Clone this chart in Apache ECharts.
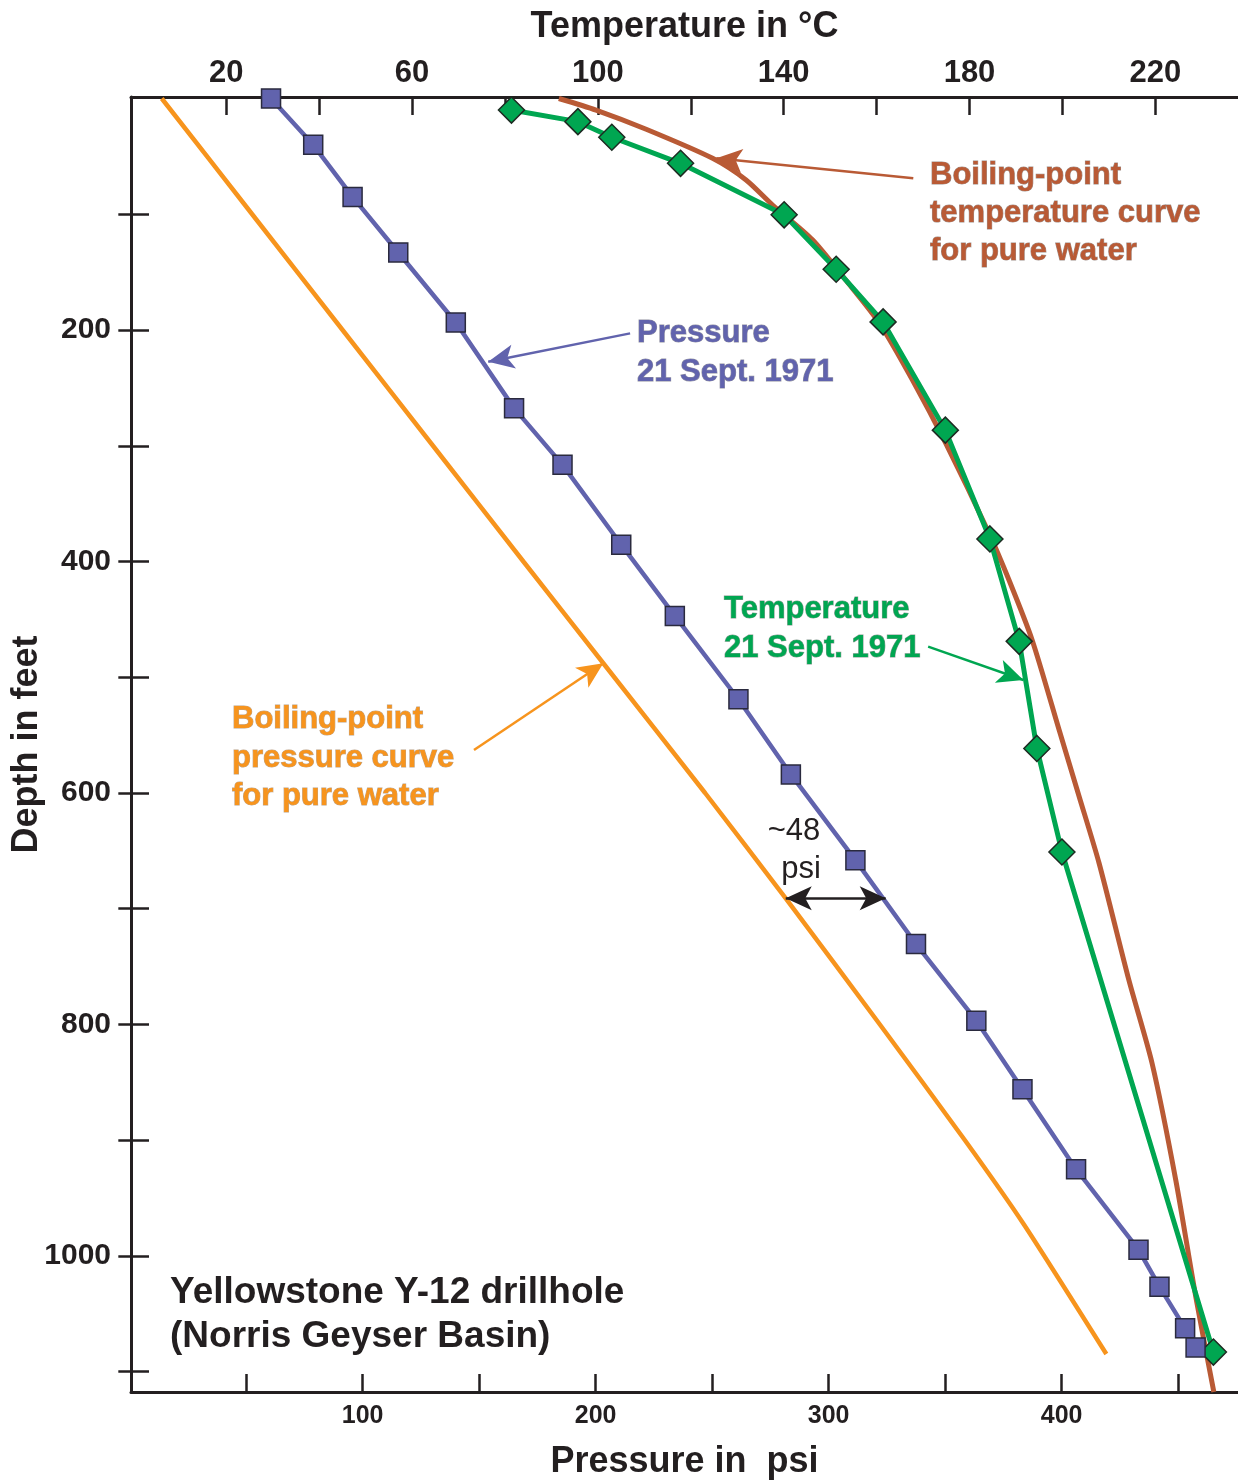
<!DOCTYPE html>
<html>
<head>
<meta charset="utf-8">
<title>Yellowstone Y-12 drillhole</title>
<script src="https://cdn.jsdelivr.net/npm/echarts@6/dist/echarts.min.js"></script>
<style>
  html, body { margin: 0; padding: 0; background: #ffffff; }
  #chart { width: 1238px; height: 1480px; }
</style>
</head>
<body>
<div id="chart"></div>
<script>
// Measured pressure in the hole, 21 Sept. 1971 (psi vs depth in feet)
const pressurePsi      = [60.7, 78.8, 95.7, 115.3, 140, 165, 185.8, 211, 234, 261.3, 283.8, 311.5, 337.5, 363.4, 383.2, 406.2, 433, 442, 453, 457.5];
const pressureDepthFt  = [0, 40, 85, 133, 193.5, 267.5, 316.5, 385.5, 447, 519, 584, 658, 730.5, 796.7, 856, 925, 994.5, 1026.5, 1062.5, 1079];

// Measured temperature in the hole, 21 Sept. 1971 (deg C vs depth in feet)
const tempC            = [81.4, 95.7, 103, 117.8, 140.1, 151.3, 161.4, 174.8, 184.4, 190.7, 194.5, 199.9, 232.5];
const tempDepthFt      = [10, 20, 33.5, 56, 100.5, 147.5, 193, 286.5, 380.5, 469, 561.5, 651, 1083];

// Boiling-point temperature curve for pure water
const boilTempC        = [91.6, 99.6, 110.4, 124.7, 131.9, 137.6, 146.2, 153.4, 160.6, 167.7, 174.9, 184.2, 188.5, 193.5, 199.3, 203.6, 207.9, 214.3, 219.3, 224.4, 228.7, 232.6];
const boilTempDepthFt  = [0, 10, 26.6, 51.7, 70.4, 92, 122, 157, 194, 243, 298, 375.6, 416, 468, 545.6, 603, 660.7, 761.5, 833.5, 934.3, 1035, 1117.5];

// Boiling-point pressure curve for pure water
const boilPressPsi     = [13.8, 52.6, 91.4, 130.2, 169, 203.3, 247, 281.6, 322, 358.5, 383.9, 419.2];
const boilPressDepthFt = [0, 100, 200, 300, 400, 487.9, 600, 691, 800, 900, 973, 1084.7];

// Axis ticks and labels
const pressureTicks  = [50, 100, 150, 200, 250, 300, 350, 400, 450];
const pressureLabels = [100, 200, 300, 400];
const tempTicks      = [20, 40, 60, 80, 100, 120, 140, 160, 180, 200, 220];
const tempLabels     = [20, 60, 100, 140, 180, 220];
const depthTicks     = [100, 200, 300, 400, 500, 600, 700, 800, 900, 1000, 1100];
const depthLabels    = [200, 400, 600, 800, 1000];

// Gap between the boiling-point and measured pressure at this depth
const gapDepthFt = 691;
const gapFromPsi = 281.6;
const gapToPsi   = 324.5;

const zip = (xs, ys) => xs.map((x, i) => [x, ys[i]]);

const INK = '#231f20';
const FONT = '"Liberation Sans", Arial, Helvetica, sans-serif';
const BLUE = '#6163ad';
const GREEN = '#00a651';
const BROWN = '#b95a35';
const ORANGE = '#f7941d';
const ARROW_SIZE = [18, 26];

const chart = echarts.init(document.getElementById('chart'), null, { renderer: 'canvas' });

function arrow(from, to, color, width) {
  return {
    silent: true,
    animation: false,
    symbol: ['none', 'arrow'],
    symbolSize: ARROW_SIZE,
    label: { show: false },
    emphasis: { disabled: true },
    lineStyle: { color: color, width: width, type: 'solid' },
    data: [[{ coord: from }, { coord: to }]]
  };
}

function label(text, x, y, color, opts) {
  opts = opts || {};
  return {
    type: 'text',
    x: x,
    y: y,
    silent: true,
    z: 100,
    style: {
      text: text,
      fill: color,
      font: (opts.weight || 'bold') + ' ' + (opts.size || 31) + 'px ' + FONT,
      align: opts.align || 'left',
      verticalAlign: 'middle',
      stroke: opts.stroke || null,
      lineWidth: opts.stroke ? 1 : 0
    }
  };
}

const axisLineStyle = { color: INK, width: 3 };
const tickStyle = { color: INK, width: 2.5 };
const plainNumber = (v) => String(v);

const option = {
  animation: false,
  backgroundColor: '#ffffff',
  grid: { left: 131, top: 97, right: 0, bottom: 88, containLabel: false, outerBoundsMode: 'none' },
  xAxis: [
    {
      type: 'value',
      position: 'bottom',
      min: 0.6,
      max: 475.7,
      splitLine: { show: false },
      axisLine: { show: true, onZero: false, lineStyle: axisLineStyle },
      axisTick: { show: true, inside: true, length: 18, lineStyle: tickStyle, customValues: pressureTicks },
      axisLabel: { show: true, customValues: pressureLabels, formatter: plainNumber, margin: 12, color: INK, fontSize: 25, fontWeight: 'bold', fontFamily: FONT },
      name: 'Pressure in  psi',
      nameLocation: 'middle',
      nameGap: 52,
      nameTextStyle: { color: INK, fontSize: 36, fontWeight: 'bold', fontFamily: FONT }
    },
    {
      type: 'value',
      position: 'top',
      min: -0.5,
      max: 237.8,
      splitLine: { show: false },
      axisLine: { show: true, onZero: false, lineStyle: axisLineStyle },
      axisTick: { show: true, inside: true, length: 18, lineStyle: tickStyle, customValues: tempTicks },
      axisLabel: { show: true, customValues: tempLabels, formatter: plainNumber, margin: 8, color: INK, fontSize: 31, fontWeight: 'bold', fontFamily: FONT },
      name: 'Temperature in \u00B0C',
      nameLocation: 'middle',
      nameGap: 52,
      nameTextStyle: { color: INK, fontSize: 36, fontWeight: 'bold', fontFamily: FONT }
    }
  ],
  yAxis: [
    {
      type: 'value',
      position: 'left',
      inverse: true,
      min: -1.3,
      max: 1117.5,
      splitLine: { show: false },
      axisLine: { show: true, onZero: false, lineStyle: axisLineStyle },
      axisTick: { show: true, inside: true, length: 18, lineStyle: tickStyle, customValues: depthTicks },
      axisLabel: { show: true, customValues: depthLabels, formatter: plainNumber, margin: 20, color: INK, fontSize: 30, fontWeight: 'bold', fontFamily: FONT },
      name: 'Depth in feet',
      nameLocation: 'middle',
      nameGap: 86,
      nameMoveOverlap: false,
      nameRotate: 90,
      nameTextStyle: { color: INK, fontSize: 36, fontWeight: 'bold', fontFamily: FONT }
    },
    {
      type: 'value',
      position: 'right',
      inverse: true,
      min: -1.3,
      max: 1117.5,
      splitLine: { show: false },
      axisLine: { show: false },
      axisTick: { show: true, inside: true, length: 15, lineStyle: tickStyle, customValues: depthTicks },
      axisLabel: { show: false }
    }
  ],
  series: [
    {
      name: 'Boiling-point pressure curve',
      type: 'line',
      xAxisIndex: 0,
      yAxisIndex: 0,
      data: zip(boilPressPsi, boilPressDepthFt),
      showSymbol: false,
      symbol: 'none',
      smooth: 0.2,
      lineStyle: { color: ORANGE, width: 4.5 },
      itemStyle: { color: ORANGE },
      z: 2,
      markLine: arrow([147.8, 562.9], [203.3, 487.9], ORANGE, 2.5)
    },
    {
      name: 'Boiling-point temperature curve',
      type: 'line',
      xAxisIndex: 1,
      yAxisIndex: 0,
      data: zip(boilTempC, boilTempDepthFt),
      showSymbol: false,
      symbol: 'none',
      smooth: 0.25,
      lineStyle: { color: BROWN, width: 5 },
      itemStyle: { color: BROWN },
      z: 2,
      markLine: arrow([167.9, 68.9], [125.5, 51.7], BROWN, 2.5)
    },
    {
      name: 'Temperature 21 Sept. 1971',
      type: 'line',
      xAxisIndex: 1,
      yAxisIndex: 0,
      data: zip(tempC, tempDepthFt),
      symbol: 'diamond',
      symbolSize: [26, 26],
      lineStyle: { color: GREEN, width: 5 },
      itemStyle: { color: GREEN, borderColor: '#1d2b22', borderWidth: 1.5 },
      z: 3,
      markLine: arrow([171.1, 473.6], [191.6, 502.4], GREEN, 2.5)
    },
    {
      name: 'Pressure 21 Sept. 1971',
      type: 'line',
      xAxisIndex: 0,
      yAxisIndex: 0,
      data: zip(pressurePsi, pressureDepthFt),
      symbol: 'rect',
      symbolSize: 19,
      lineStyle: { color: BLUE, width: 4.5 },
      itemStyle: { color: BLUE, borderColor: '#2a2a3e', borderWidth: 1.5 },
      z: 3,
      markLine: {
        silent: true,
        animation: false,
        label: { show: false },
        emphasis: { disabled: true },
        symbolSize: ARROW_SIZE,
        data: [
          [
            { coord: [214.8, 202.9], symbol: 'none', lineStyle: { color: BLUE, width: 2.5, type: 'solid' } },
            { coord: [153.9, 227.4], symbol: 'arrow' }
          ],
          [
            { coord: [gapFromPsi, gapDepthFt], symbol: 'arrow', lineStyle: { color: INK, width: 2.5, type: 'solid' } },
            { coord: [gapToPsi, gapDepthFt], symbol: 'arrow' }
          ]
        ]
      }
    }
  ],
  graphic: [
    label('Boiling-point', 930, 175, BROWN, { stroke: 'rgba(60,30,20,0.5)' }),
    label('temperature curve', 930, 213, BROWN, { stroke: 'rgba(60,30,20,0.5)' }),
    label('for pure water', 930, 251, BROWN, { stroke: 'rgba(60,30,20,0.5)' }),

    label('Pressure', 637, 333, BLUE, { stroke: 'rgba(30,30,60,0.5)' }),
    label('21 Sept. 1971', 637, 372, BLUE, { stroke: 'rgba(30,30,60,0.5)' }),

    label('Temperature', 724, 609, GREEN, { stroke: 'rgba(10,50,30,0.5)' }),
    label('21 Sept. 1971', 724, 648, GREEN, { stroke: 'rgba(10,50,30,0.5)' }),

    label('Boiling-point', 232, 719, ORANGE, { stroke: 'rgba(120,70,20,0.5)' }),
    label('pressure curve', 232, 758, ORANGE, { stroke: 'rgba(120,70,20,0.5)' }),
    label('for pure water', 232, 796, ORANGE, { stroke: 'rgba(120,70,20,0.5)' }),

    label('~48', 794, 831, INK, { weight: 'normal', size: 31, align: 'center' }),
    label('psi', 801, 869, INK, { weight: 'normal', size: 31, align: 'center' }),

    label('Yellowstone Y-12 drillhole', 170, 1293, INK, { size: 37 }),
    label('(Norris Geyser Basin)', 170, 1337, INK, { size: 37 })
  ]
};

chart.setOption(option);
</script>
</body>
</html>
